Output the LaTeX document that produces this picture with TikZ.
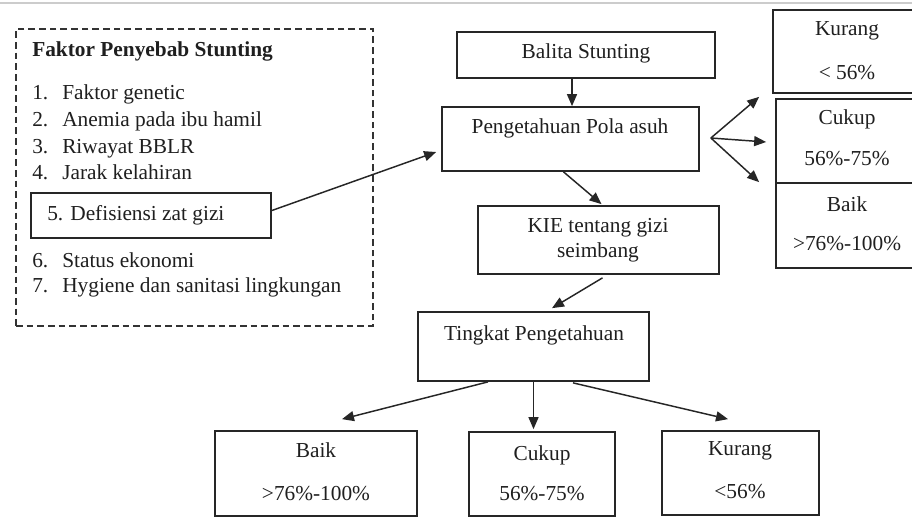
\documentclass[tikz,border=0pt]{standalone}
\usepackage{fontspec}
\setmainfont{Liberation Serif}
\usetikzlibrary{arrows.meta,calc,fit}
\begin{document}
\begin{tikzpicture}[x=0.75pt,y=-0.75pt,
  font=\fontsize{16}{19}\selectfont,
  box/.style={draw=black!85, line width=1.3pt, inner sep=0pt, fit={#1}},
  dbox/.style={draw=black!80, line width=1.2pt, dash pattern=on 5pt off 3pt, inner sep=0pt, fit={#1}},
  txt/.style={anchor=base, inner sep=0pt, text=black!88},
  ltxt/.style={anchor=base west, inner sep=0pt, text=black!88},
  arr/.style={draw=black!85, line width=1.1pt, -{Triangle[length=9pt,width=7.5pt]}}]
\clip (0,0) rectangle (912,518);
\fill[white] (0,0) rectangle (912,518);
\draw[black!20, line width=0.8pt] (0,3) -- (912,3);

% left dashed box
\node[dbox={(16,29) (373,326)}] (faktor) {};
\node[ltxt, font=\fontsize{16}{19}\selectfont\bfseries] (judul) at (32,56) {Faktor Penyebab Stunting};
\node[ltxt] (n1) at (32,99) {1.};
\node[ltxt] (t1) at (62,99) {Faktor genetic};
\node[ltxt] (n2) at (32,126) {2.};
\node[ltxt] (t2) at (62,126) {Anemia pada ibu hamil};
\node[ltxt] (n3) at (32,153) {3.};
\node[ltxt] (t3) at (62,153) {Riwayat BBLR};
\node[ltxt] (n4) at (32,179) {4.};
\node[ltxt] (t4) at (62,179) {Jarak kelahiran};
\node[box={(31,193) (271,238)}] (def) {};
\node[ltxt] (tdef) at (47,220) {5. Defisiensi zat gizi};
\node[ltxt] (n6) at (32,267) {6.};
\node[ltxt] (t6) at (62,267) {Status ekonomi};
\node[ltxt] (n7) at (32,292) {7.};
\node[ltxt] (t7) at (62,292) {Hygiene dan sanitasi lingkungan};

% centre column
\node[box={(457,32) (715,78)}] (balita) {};
\node[txt] (tbalita) at (586,58) {Balita Stunting};
\node[box={(442,107) (699,171)}] (pola) {};
\node[txt] (tpola) at (570,133) {Pengetahuan Pola asuh};
\node[box={(478,206) (719,274)}] (kie) {};
\node[txt] (tkie1) at (598,232) {KIE tentang gizi};
\node[txt] (tkie2) at (598,257) {seimbang};
\node[box={(418,312) (649,381)}] (ting) {};
\node[txt] (tting) at (534,340) {Tingkat Pengetahuan};

% right column
\node[box={(773,10) (935,93)}] (kR) {};
\node[txt] (kR1) at (847,35) {Kurang};
\node[txt] (kR2) at (847,79) {< 56\%};
\node[box={(776,99) (935,183)}] (cR) {};
\node[txt] (cR1) at (847,124) {Cukup};
\node[txt] (cR2) at (847,165) {56\%-75\%};
\node[box={(776,183) (935,268)}] (bR) {};
\node[txt] (bR1) at (847,211) {Baik};
\node[txt] (bR2) at (847,250) {>76\%-100\%};

% bottom row
\node[box={(215,431) (417,516)}] (bB) {};
\node[txt] (bB1) at (316,457) {Baik};
\node[txt] (bB2) at (316,500) {>76\%-100\%};
\node[box={(469,432) (615,516)}] (bC) {};
\node[txt] (bC1) at (542,460) {Cukup};
\node[txt] (bC2) at (542,500) {56\%-75\%};
\node[box={(662,431) (819,515)}] (bK) {};
\node[txt] (bK1) at (740,455) {Kurang};
\node[txt] (bK2) at (740,498) {<56\%};

% connectors
\coordinate (bs) at ($(balita.south)+(-14,0)$);
\draw[arr] ($(def.east)+(0,-5)$) -- ($(pola.west)+(-5,13)$);
\draw[arr] (bs) -- (bs |- pola.north);
\draw[arr] ($(pola.east)+(11,-1)$) -- ($(kR.south west)+(-13,3)$);
\draw[arr] ($(pola.east)+(11,-1)$) -- ($(cR.west)+(-9,1)$);
\draw[arr] ($(pola.east)+(11,-1)$) -- ($(bR.north west)+(-16,0)$);
\draw[arr] ($(pola.south)+(-7,0)$) -- ($(kie.north)+(3,-1)$);
\draw[arr] ($(kie.south)+(4,3)$) -- ($(ting.north)+(18.5,-3)$);
\draw[arr] ($(ting.south)+(-45.5,0)$) -- ($(bB.north)+(26,-11)$);
\draw[arr] (ting.south) -- ($(ting.south |- bC.north)+(0,-2)$);
\draw[arr] ($(ting.south)+(39.5,1)$) -- ($(bK.north)+(-12.5,-11)$);
\end{tikzpicture}
\end{document}
